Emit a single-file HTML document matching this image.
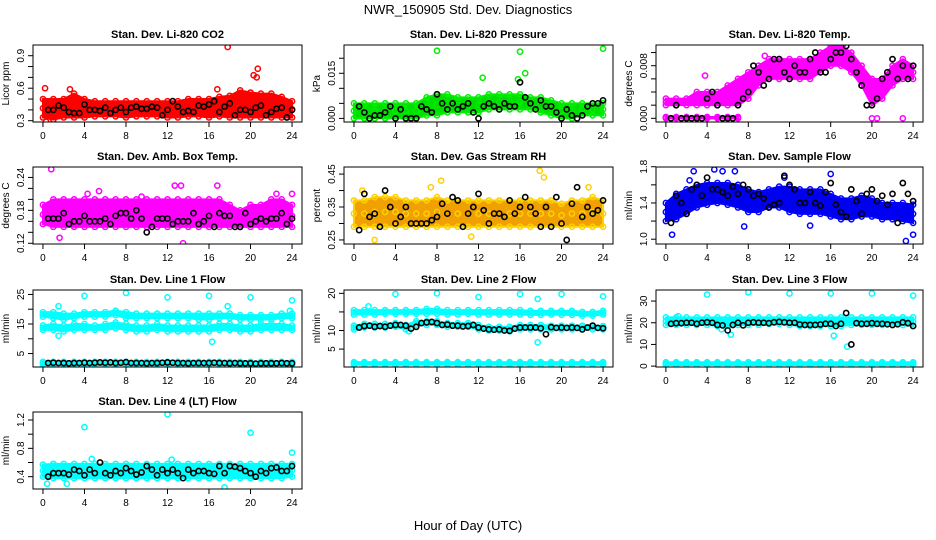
<!DOCTYPE html>
<html><head><meta charset="utf-8"><style>
html,body{margin:0;padding:0;background:#fff;}
svg{display:block;font-family:"Liberation Sans",sans-serif;}
</style></head><body>
<svg id="chart" width="936" height="540" viewBox="0 0 936 540">
<rect x="0" y="0" width="936" height="540" fill="#fff"/>
<text x="468" y="14" font-size="13" text-anchor="middle">NWR_150905  Std. Dev. Diagnostics</text>
<text x="468" y="530" font-size="13" text-anchor="middle">Hour of Day (UTC)</text>
</svg>
<script>
const hrs25=[0,1,2,3,4,5,6,7,8,9,10,11,12,13,14,15,16,17,18,19,20,21,22,23,24];
const hrs49=[0,0.5,1,1.5,2,2.5,3,3.5,4,4.5,5,5.5,6,6.5,7,7.5,8,8.5,9,9.5,10,10.5,11,11.5,12,12.5,13,13.5,14,14.5,15,15.5,16,16.5,17,17.5,18,18.5,19,19.5,20,20.5,21,21.5,22,22.5,23,23.5,24];
const hrsEarly=[0,1,2,3,4,5,6,7];
const xTicks=[0,4,8,12,16,20,24];

// CO2
const co2Hi=[0.50,0.50,0.50,0.55,0.50,0.48,0.48,0.48,0.48,0.48,0.48,0.48,0.48,0.48,0.50,0.50,0.50,0.52,0.53,0.58,0.56,0.55,0.55,0.52,0.48];
const co2Lo=[0.33,0.31,0.33,0.33,0.33,0.34,0.34,0.34,0.33,0.34,0.34,0.34,0.33,0.33,0.34,0.34,0.33,0.34,0.33,0.33,0.33,0.33,0.33,0.33,0.33];
const co2Blk=[0.42,0.40,0.40,0.44,0.42,0.38,0.37,0.37,0.45,0.40,0.40,0.39,0.42,0.37,0.40,0.42,0.38,0.42,0.43,0.41,0.41,0.43,0.42,0.35,0.40,0.48,0.43,0.38,0.39,0.38,0.44,0.43,0.45,0.48,0.38,0.43,0.46,0.35,0.40,0.40,0.38,0.42,0.44,0.35,0.38,0.41,0.42,0.33,0.40];
const co2OutX=[0.2,2.6,17.8,20.3,20.6,20.7,16.8,0.3];
const co2OutY=[0.60,0.59,0.98,0.72,0.70,0.78,0.59,0.29];
// Pressure
const prsHi=[0.005,0.005,0.005,0.005,0.005,0.005,0.005,0.007,0.008,0.008,0.007,0.007,0.007,0.008,0.008,0.008,0.008,0.007,0.007,0.006,0.005,0.005,0.005,0.005,0.005];
const prsLo=[0.000,0.000,0.000,0.000,0.000,0.000,0.000,0.001,0.001,0.002,0.002,0.002,0.002,0.003,0.003,0.003,0.003,0.003,0.002,0.001,0.000,0.000,0.001,0.001,0.001];
const prsBlk=[0.004,0.004,0.002,0.000,0.001,0.001,0.002,0.004,0.000,0.003,0.000,0.000,0.000,0.004,0.003,0.002,0.008,0.005,0.003,0.005,0.003,0.004,0.005,0.002,0.000,0.004,0.005,0.004,0.003,0.005,0.004,0.004,0.012,0.007,0.005,0.003,0.006,0.004,0.004,0.002,0.000,0.003,0.001,0.000,0.001,0.004,0.005,0.005,0.006];
const prsOutX=[8,16,24,12.4,15.8,16.5];
const prsOutY=[0.0225,0.0222,0.0232,0.0135,0.0130,0.0150];
// Li-820 Temp
const tmpHi=[0.003,0.003,0.003,0.004,0.004,0.004,0.005,0.006,0.007,0.008,0.009,0.009,0.009,0.009,0.009,0.010,0.011,0.011,0.010,0.008,0.006,0.006,0.008,0.009,0.008];
const tmpLo=[0.002,0.002,0.002,0.002,0.002,0.002,0.002,0.002,0.003,0.005,0.006,0.006,0.006,0.006,0.006,0.007,0.008,0.008,0.007,0.005,0.002,0.003,0.005,0.006,0.006];
const tmpZeroHi=[0.0002,0.0002,0.0002,0.0002,0.0002,0.0002,0.0002,0.0002];
const tmpZeroLo=[0,0,0,0,0,0,0,0];
const tmpBlk=[0.000,0.000,0.002,0.000,0.000,0.000,0.000,0.000,0.003,0.004,0.002,0.000,0.000,0.000,0.002,0.003,0.004,0.008,0.007,0.005,0.006,0.009,0.009,0.007,0.006,0.008,0.007,0.007,0.009,0.010,0.007,0.007,0.009,0.010,0.010,0.011,0.009,0.007,0.005,0.002,0.002,0.003,0.006,0.007,0.009,0.006,0.008,0.006,0.008];
const tmpOutX=[3.8,9.6,17.2,20,20.5,23];
const tmpOutY=[0.0065,0.0095,0.0112,0,0,0];
// Amb box temp
const ambHi=[0.19,0.20,0.20,0.20,0.20,0.20,0.20,0.20,0.20,0.20,0.20,0.20,0.20,0.20,0.20,0.20,0.20,0.20,0.19,0.18,0.19,0.19,0.20,0.20,0.19];
const ambLo=[0.155,0.15,0.15,0.15,0.15,0.15,0.15,0.15,0.15,0.15,0.15,0.15,0.15,0.15,0.15,0.15,0.15,0.15,0.15,0.15,0.15,0.15,0.15,0.15,0.15];
const ambBlk=[0.17,0.165,0.165,0.165,0.175,0.155,0.16,0.16,0.17,0.16,0.16,0.16,0.165,0.155,0.17,0.175,0.175,0.165,0.18,0.165,0.14,0.15,0.165,0.165,0.165,0.155,0.16,0.16,0.16,0.175,0.155,0.16,0.17,0.15,0.175,0.17,0.17,0.15,0.15,0.175,0.155,0.16,0.165,0.16,0.165,0.165,0.175,0.155,0.165];
const ambOutX=[0.8,1.6,12.7,13.3,16.8,5.4,24,13.5,22.5,4.3,9.5];
const ambOutY=[0.255,0.13,0.225,0.225,0.225,0.215,0.21,0.12,0.21,0.21,0.205];
// RH
const rhHi=[0.37,0.37,0.38,0.38,0.38,0.37,0.37,0.37,0.38,0.37,0.37,0.37,0.37,0.37,0.37,0.37,0.37,0.37,0.37,0.37,0.36,0.37,0.37,0.38,0.37];
const rhLo=[0.29,0.29,0.29,0.29,0.29,0.29,0.29,0.29,0.29,0.29,0.29,0.29,0.29,0.29,0.29,0.29,0.29,0.29,0.29,0.29,0.29,0.29,0.29,0.29,0.29];
const rhBlk=[0.32,0.28,0.39,0.32,0.33,0.29,0.40,0.35,0.30,0.32,0.35,0.30,0.30,0.30,0.30,0.31,0.32,0.36,0.33,0.38,0.37,0.29,0.33,0.35,0.39,0.34,0.30,0.33,0.33,0.32,0.37,0.33,0.35,0.38,0.35,0.33,0.29,0.35,0.29,0.38,0.30,0.25,0.36,0.41,0.32,0.35,0.33,0.34,0.37];
const rhOutX=[17.9,8.4,18.3,0.8,7.4,22.6,2.0,11.3];
const rhOutY=[0.46,0.43,0.44,0.40,0.41,0.41,0.25,0.26];
// Sample flow
const smpHi=[1.40,1.50,1.55,1.60,1.62,1.62,1.62,1.60,1.55,1.52,1.55,1.58,1.58,1.55,1.55,1.55,1.50,1.45,1.45,1.48,1.45,1.40,1.40,1.40,1.38];
const smpLo=[1.20,1.22,1.28,1.35,1.38,1.40,1.38,1.35,1.30,1.30,1.35,1.35,1.30,1.28,1.28,1.28,1.25,1.22,1.22,1.25,1.25,1.22,1.22,1.20,1.18];
const smpBlk=[1.35,1.18,1.48,1.40,1.28,1.55,1.60,1.48,1.68,1.55,1.55,1.52,1.48,1.58,1.50,1.60,1.55,1.48,1.50,1.45,1.35,1.38,1.40,1.70,1.60,1.55,1.40,1.40,1.52,1.40,1.37,1.52,1.62,1.38,1.30,1.25,1.55,1.42,1.28,1.50,1.55,1.42,1.48,1.38,1.50,1.18,1.62,1.50,1.42];
const smpOutX=[0.6,2.7,4.7,5.5,6.7,7.6,14.0,16.0,23.3,24.0,2.3,11.5];
const smpOutY=[1.05,1.75,1.77,1.75,1.75,1.14,1.15,1.72,0.98,1.05,1.65,1.68];
// Line 1
const l1aHi=[19,19,18.5,18.5,19,19,19,19.5,19,18.5,18.5,18.5,18.5,18.5,18.5,18.5,18.5,18.5,18.5,18,18,18,18,18.5,18.5];
const l1aLo=[17.5,17,16.5,17,17.5,17.5,17.5,18,17,17,17,17,17,17,17,16.5,16.5,17,17,16.5,16.5,16.5,16.5,17,17];
const l1bHi=[14.5,15,14.5,15,15,14.5,15,15.5,15,14.5,14.5,15,14.5,14.5,14.5,14.5,14.5,15,15,14.5,14.5,15,15,15,14.5];
const l1bLo=[13,13,12.5,13,13,13,13,13.5,13,12.5,12.5,13,12.5,12.5,12.5,12.5,12.5,13,13,12.5,12.5,13,13,13,13];
const l1cHi=[2.2,2.2,2.2,2.2,2.2,2.2,2.2,2.2,2.2,2.2,2.2,2.2,2.2,2.2,2.2,2.2,2.2,2.2,2.2,2.2,2.2,2.2,2.2,2.2,2.2];
const l1cLo=[1.2,1.2,1.2,1.2,1.2,1.2,1.2,1.2,1.2,1.2,1.2,1.2,1.2,1.2,1.2,1.2,1.2,1.2,1.2,1.2,1.2,1.2,1.2,1.2,1.2];
const l1Blk=[1.8,1.8,1.9,1.8,1.8,1.7,1.8,1.8,1.9,1.8,1.9,2.0,1.9,2.0,1.8,1.9,2.1,1.8,1.8,1.8,1.7,1.8,1.8,1.9,2.0,1.9,1.8,1.8,1.7,1.8,1.8,1.8,1.8,1.9,1.8,1.8,1.7,1.8,1.7,1.7,1.7,1.6,1.7,1.7,1.7,1.7,1.8,1.7,1.7];
const l1OutX=[1.5,1.5,4,8,12,16,16.3,17.8,20,24,23.8];
const l1OutY=[21,11,24.5,25.5,24,24.5,9,21,24,23,19.5];
// Line 2
const l2aHi=[15.5,15.5,15.5,15.5,15.5,15.5,15.5,15.8,15.8,15.5,15.5,15.5,15.5,15.5,15.5,15.5,15.5,15.3,15.3,15.3,15.3,15.3,15,15,15.3];
const l2aLo=[14.3,14.3,14.3,14.5,14.5,14.5,14.5,14.5,14.5,14.3,14.3,14.5,14.3,14.3,14.3,14.3,14.3,14.2,14.2,14.3,14.2,14.2,14,14,14.3];
const l2bHi=[11.3,11.8,11.8,11.8,12,11.5,12.5,12.5,12.5,12,12,12,11.5,11,11,11,11.5,11.5,11.5,11.3,11.3,11.3,11.3,11.3,11.2];
const l2bLo=[10.3,10.8,10.8,10.8,11,10.3,11.5,11.5,11.5,11,11,11,10.3,10,10,9.8,10.3,10.3,10.3,10.3,10.3,10.3,10.3,10.3,10.3];
const l2cHi=[1.5,1.5,1.5,1.5,1.5,1.5,1.5,1.5,1.5,1.5,1.5,1.5,1.5,1.5,1.5,1.5,1.5,1.5,1.5,1.5,1.5,1.5,1.5,1.5,1.5];
const l2cLo=[0.8,0.8,0.8,0.8,0.8,0.8,0.8,0.8,0.8,0.8,0.8,0.8,0.8,0.8,0.8,0.8,0.8,0.8,0.8,0.8,0.8,0.8,0.8,0.8,0.8];
const l2Blk=[10.6,10.8,11.2,11.3,11,11.2,11,11.3,11.5,11.5,11.3,10.5,11,12,12.2,12.3,12.0,11.5,11.6,11.3,11.3,11.1,11.2,11.5,10.8,10.5,10.3,10.2,10.3,10.0,9.9,10.5,10.8,10.8,10.8,10.8,10.6,9.0,10.9,10.7,10.8,10.7,10.8,10.7,10.3,10.8,11.3,10.7,10.6];
const l2OutX=[4,8,12,16,20,24,17.7,1.4,17.7,5.3];
const l2OutY=[19.8,20,19,19.8,19.8,19.2,6.8,16.5,18.5,9.8];
// Line 3
const l3aHi=[22.5,22.5,22.5,22.5,22.5,22.5,22.5,22.5,22.5,22.5,22.5,22.5,22.5,22.5,22.5,22.5,22.5,22.5,22.5,22.5,22.5,22.5,22.5,22.5,22.5];
const l3aLo=[19,19,19,19,19,18.5,18.5,19,19,19,19.5,19.5,19,18.5,18.5,18.5,18.5,18.5,19,19,19,19,19,19,18.5];
const l3cHi=[1.8,1.8,1.8,1.8,1.8,1.8,1.8,1.8,1.8,1.8,1.8,1.8,1.8,1.8,1.8,1.8,1.8,1.8,1.8,1.8,1.8,1.8,1.8,1.8,1.8];
const l3cLo=[0.5,0.5,0.5,0.5,0.5,0.5,0.5,0.5,0.5,0.5,0.5,0.5,0.5,0.5,0.5,0.5,0.5,0.5,0.5,0.5,0.5,0.5,0.5,0.5,0.5];
const l3Blk=[19.5,19.5,19.8,19.8,20,20,19.5,20,20.2,20,19,18.8,16.5,19,20,18.8,20,20.2,20,20,19.8,20.2,20.4,20.2,20,20,19.2,19,19,19,19.2,19.5,19.5,18.5,19.5,24.5,10,19.8,19.5,19.5,19.8,19.5,19.5,19.3,19,19.3,20.2,19.8,18.5];
const l3OutX=[4,8,12,16,20,24,17.6,6.3,16.3,5.4,1.2];
const l3OutY=[33,34,33.5,33.5,33.5,32.5,9,14.5,14,17,23];
// Line 4
const l4Hi=[0.57,0.58,0.58,0.58,0.58,0.58,0.58,0.58,0.58,0.58,0.58,0.58,0.58,0.58,0.58,0.58,0.58,0.58,0.58,0.58,0.58,0.58,0.58,0.58,0.58];
const l4Lo=[0.40,0.38,0.38,0.38,0.38,0.38,0.38,0.38,0.38,0.38,0.38,0.38,0.38,0.38,0.38,0.38,0.38,0.38,0.38,0.38,0.38,0.38,0.38,0.38,0.40];
const l4Blk=[0.5,0.4,0.45,0.45,0.45,0.43,0.5,0.48,0.42,0.5,0.45,0.6,0.45,0.42,0.48,0.45,0.52,0.48,0.43,0.46,0.55,0.5,0.42,0.5,0.45,0.5,0.45,0.38,0.5,0.45,0.48,0.48,0.45,0.44,0.55,0.45,0.55,0.54,0.52,0.48,0.45,0.4,0.48,0.45,0.52,0.53,0.48,0.48,0.55];
const l4OutX=[4,12,20,24,17.5,0.4,2.3,4.7,12.4,1.0];
const l4OutY=[1.1,1.28,1.02,0.74,0.25,0.3,0.3,0.65,0.64,0.58];

const svg=document.getElementById('chart');
const NS='http://www.w3.org/2000/svg';
function mk(tag,attrs,parent){const e=document.createElementNS(NS,tag);for(const k in attrs)e.setAttribute(k,attrs[k]);(parent||svg).appendChild(e);return e;}

const colX=[[33,302],[344,613],[656,923]];
const rowY=[45,167,290,412];
const panels=[
 {key:'co2',title:'Stan. Dev. Li-820 CO2',ylab:'Licor ppm',c:0,r:0,dom:[0.288,0.999],ticks:[0.3,0.4,0.5,0.6,0.7,0.8,0.9],labs:['0.3','','','0.6','','','0.9'],col:'#ff0000',fill:'#ff0000',bands:[[co2Hi,co2Lo]],blk:co2Blk,ox:co2OutX,oy:co2OutY},
 {key:'pressure',title:'Stan. Dev. Li-820 Pressure',ylab:'kPa',c:1,r:0,dom:[-0.0012,0.0244],ticks:[0,0.005,0.01,0.015,0.02],labs:['0.000','','','0.015',''],col:'#00ee00',fill:'#00dd00',bands:[[prsHi,prsLo]],blk:prsBlk,ox:prsOutX,oy:prsOutY},
 {key:'li820-temp',title:'Stan. Dev. Li-820 Temp.',ylab:'degrees C',c:2,r:0,dom:[-0.00056,0.01115],ticks:[0,0.002,0.004,0.006,0.008,0.010],labs:['0.000','','','','0.008',''],col:'#ff00ff',fill:'#ff00ff',bands:[[tmpHi,tmpLo],[tmpZeroHi,tmpZeroLo,hrsEarly]],blk:tmpBlk,ox:tmpOutX,oy:tmpOutY},
 {key:'amb-box-temp',title:'Stan. Dev. Amb. Box Temp.',ylab:'degrees C',c:0,r:1,dom:[0.1187,0.259],ticks:[0.12,0.14,0.16,0.18,0.20,0.22,0.24],labs:['0.12','','','0.18','','','0.24'],col:'#ff00ff',fill:'#ff00ff',bands:[[ambHi,ambLo]],blk:ambBlk,ox:ambOutX,oy:ambOutY},
 {key:'gas-rh',title:'Stan. Dev. Gas Stream RH',ylab:'percent',c:1,r:1,dom:[0.2377,0.4715],ticks:[0.25,0.30,0.35,0.40,0.45],labs:['0.25','','0.35','','0.45'],col:'#ffd000',fill:'#f0a000',bands:[[rhHi,rhLo]],blk:rhBlk,ox:rhOutX,oy:rhOutY},
 {key:'sample-flow',title:'Stan. Dev. Sample Flow',ylab:'ml/min',c:2,r:1,dom:[0.947,1.797],ticks:[1.0,1.2,1.4,1.6,1.8],labs:['1.0','','1.4','','1.8'],col:'#0000ff',fill:'#0000ee',bands:[[smpHi,smpLo]],blk:smpBlk,ox:smpOutX,oy:smpOutY},
 {key:'line1-flow',title:'Stan. Dev. Line 1 Flow',ylab:'ml/min',c:0,r:2,dom:[0.45,26.5],ticks:[5,10,15,20,25],labs:['5','','15','','25'],col:'#00ffff',fill:'#00ffff',bands:[[l1aHi,l1aLo],[l1bHi,l1bLo],[l1cHi,l1cLo]],blk:l1Blk,ox:l1OutX,oy:l1OutY},
 {key:'line2-flow',title:'Stan. Dev. Line 2 Flow',ylab:'ml/min',c:1,r:2,dom:[0.18,20.9],ticks:[5,10,15,20],labs:['5','10','','20'],col:'#00ffff',fill:'#00ffff',bands:[[l2aHi,l2aLo],[l2bHi,l2bLo],[l2cHi,l2cLo]],blk:l2Blk,ox:l2OutX,oy:l2OutY},
 {key:'line3-flow',title:'Stan. Dev. Line 3 Flow',ylab:'ml/min',c:2,r:2,dom:[-0.4,35.1],ticks:[0,10,20,30],labs:['0','10','20','30'],col:'#00ffff',fill:'#00ffff',bands:[[l3aHi,l3aLo],[l3cHi,l3cLo]],blk:l3Blk,ox:l3OutX,oy:l3OutY},
 {key:'line4-flow',title:'Stan. Dev. Line 4 (LT) Flow',ylab:'ml/min',c:0,r:3,dom:[0.226,1.313],ticks:[0.4,0.6,0.8,1.0,1.2],labs:['0.4','','0.8','','1.2'],col:'#00ffff',fill:'#00ffff',bands:[[l4Hi,l4Lo]],blk:l4Blk,ox:l4OutX,oy:l4OutY}
];

panels.forEach(p=>{
 const x0=colX[p.c][0],x1=colX[p.c][1],y0=rowY[p.r],y1=y0+77;
 const g=mk('g',{});
 
 
 const X=h=>x0+(h+0.96)/25.92*(x1-x0);
 const Y=v=>y1-(v-p.dom[0])/(p.dom[1]-p.dom[0])*(y1-y0);
 const clip='clip-'+p.key;
 const cp=mk('clipPath',{id:clip},g);mk('rect',{x:x0,y:y0,width:x1-x0,height:y1-y0},cp);
 const plot=mk('g',{'clip-path':'url(#'+clip+')'},g);
 
 
 p.bands.forEach(b=>{
  const hi=b[0],lo=b[1],hs=b[2]||hrs25;
  let pts=hs.map((h,i)=>X(h)+','+Y(hi[i]));
  pts=pts.concat(hs.slice().reverse().map((h,j)=>{const i=hs.length-1-j;return X(h)+','+Y(lo[i]);}));
  const poly=mk('polygon',{points:pts.join(' '),fill:p.fill,stroke:p.col,'stroke-width':2},plot);
  
  
  hs.forEach((h,i)=>{
   [hi[i],lo[i],(hi[i]+lo[i])/2].forEach(v=>{
    const c=mk('circle',{cx:X(h),cy:Y(v),r:2.6,fill:'none',stroke:p.col,'stroke-width':1.5},plot);
    
    
   });
  });
 });
 p.ox.forEach((h,i)=>{
  const c=mk('circle',{cx:X(h),cy:Y(p.oy[i]),r:2.6,fill:'none',stroke:p.col,'stroke-width':1.5},plot);
  
  
 });
 hrs49.forEach((h,i)=>{
  if(h===0)return;
  const c=mk('circle',{cx:X(h),cy:Y(p.blk[i]),r:2.6,fill:'none',stroke:'#000','stroke-width':1.6},plot);
  
  
 });
 const box=mk('rect',{x:x0,y:y0,width:x1-x0,height:y1-y0,fill:'none',stroke:'#000','stroke-width':1},g);
 
 
 const t=mk('text',{x:(x0+x1)/2,y:y0-7,'font-size':11,'font-weight':'bold','text-anchor':'middle'},g);
 t.textContent=p.title;
 
 
 xTicks.forEach(h=>{
  mk('line',{x1:X(h),x2:X(h),y1:y1,y2:y1+5,stroke:'#000'},g);
  const tl=mk('text',{x:X(h),y:y1+17,'font-size':10,'text-anchor':'middle'},g);
  tl.textContent=String(h);
  
  
 });
 p.ticks.forEach((v,i)=>{
  mk('line',{x1:x0-5,x2:x0,y1:Y(v),y2:Y(v),stroke:'#000'},g);
  if(p.labs[i]){
   const yl=mk('text',{x:x0-9,y:Y(v),'font-size':10,'text-anchor':'middle',transform:'rotate(-90 '+(x0-9)+' '+Y(v)+')'},g);
   yl.textContent=p.labs[i];
   
   
  }
 });
 const yt=mk('text',{x:x0-24,y:(y0+y1)/2,'font-size':10,'text-anchor':'middle',transform:'rotate(-90 '+(x0-24)+' '+((y0+y1)/2)+')'},g);
 yt.textContent=p.ylab;
 
 
});
</script>
</body></html>
